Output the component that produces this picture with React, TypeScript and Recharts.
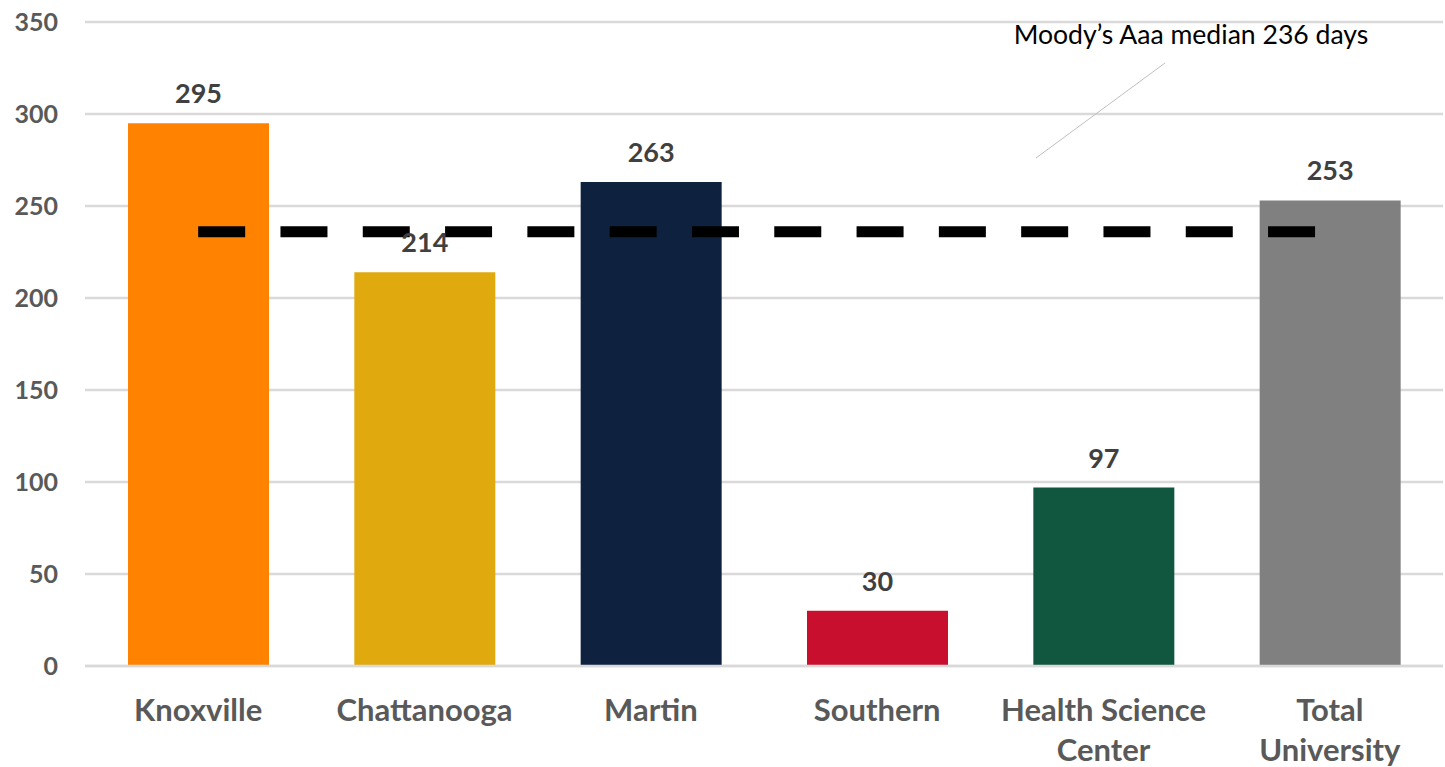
import { ComposedChart, Bar, Line, Cell, XAxis, YAxis, CartesianGrid, LabelList } from 'recharts';

const categories = ['Knoxville', 'Chattanooga', 'Martin', 'Southern', 'Health Science Center', 'Total University'];
const daysCash = [295, 214, 263, 30, 97, 253];
const aaaMedian = [236, 236, 236, 236, 236, 236];
const barColors = ['#FF8200', '#E0AA0F', '#0E223F', '#C8102E', '#115740', '#808080'];
const yTicks = [0, 50, 100, 150, 200, 250, 300, 350];

const data = categories.map((name, i) => ({ name, value: daysCash[i], median: aaaMedian[i] }));

// greedy word wrap, ~14 chars per line
function wrap(label: string, max = 14) {
  const lines: string[] = [];
  let cur = '';
  for (const w of label.split(' ')) {
    const next = cur ? cur + ' ' + w : w;
    if (next.length > max && cur) {
      lines.push(cur);
      cur = w;
    } else {
      cur = next;
    }
  }
  if (cur) lines.push(cur);
  return lines;
}

function CategoryTick(props: any) {
  const { x, y, payload } = props;
  const lines = wrap(payload.value);
  return (
    <text x={x} y={y} textAnchor="middle" fill="#595959" fontSize={31} fontWeight={700} fontFamily="Lato">
      {lines.map((l, i) => (
        <tspan key={i} x={x} y={y + 47 + i * 40}>{l}</tspan>
      ))}
    </text>
  );
}

export default function App() {
  return (
    <div style={{ position: 'absolute', left: 0, top: 0, width: 1445, height: 767, background: '#fff' }}>
      <ComposedChart
        width={1445}
        height={767}
        data={data}
        margin={{ top: 22, right: 2, left: 0, bottom: 0 }}
        style={{ fontFamily: 'Lato' }}
      >
        <CartesianGrid vertical={false} stroke="#d9d9d9" strokeWidth={2.5} />
        <XAxis
          dataKey="name"
          height={101}
          axisLine={{ stroke: '#d9d9d9', strokeWidth: 2.5 }}
          tickLine={false}
          interval={0}
          tick={<CategoryTick />}
        />
        <YAxis
          width={85}
          domain={[0, 350]}
          ticks={yTicks}
          axisLine={false}
          tickLine={false}
          tickSize={0}
          tickMargin={27}
          tick={{ fill: '#595959', fontSize: 25, fontWeight: 700 }}
        />
        <Bar dataKey="value" barSize={141} isAnimationActive={false}>
          {data.map((d, i) => (
            <Cell key={d.name} fill={barColors[i]} />
          ))}
          <LabelList dataKey="value" position="top" offset={20} fill="#404040" fontSize={27} fontWeight={700} />
        </Bar>
        <Line
          dataKey="median"
          stroke="#000"
          strokeWidth={11}
          strokeDasharray="47 35.3"
          dot={false}
          activeDot={false}
          legendType="none"
          isAnimationActive={false}
        />
      </ComposedChart>
      <svg width={1445} height={767} style={{ position: 'absolute', left: 0, top: 0, pointerEvents: 'none' }}>
        <line x1={1165} y1={63} x2={1036} y2={158} stroke="#bfbfbf" strokeWidth={1} />
        <text x={1191} y={44} textAnchor="middle" fontSize={26.6} fontFamily="Lato" fill="#000">
          Moody’s Aaa median 236 days
        </text>
      </svg>
    </div>
  );
}
